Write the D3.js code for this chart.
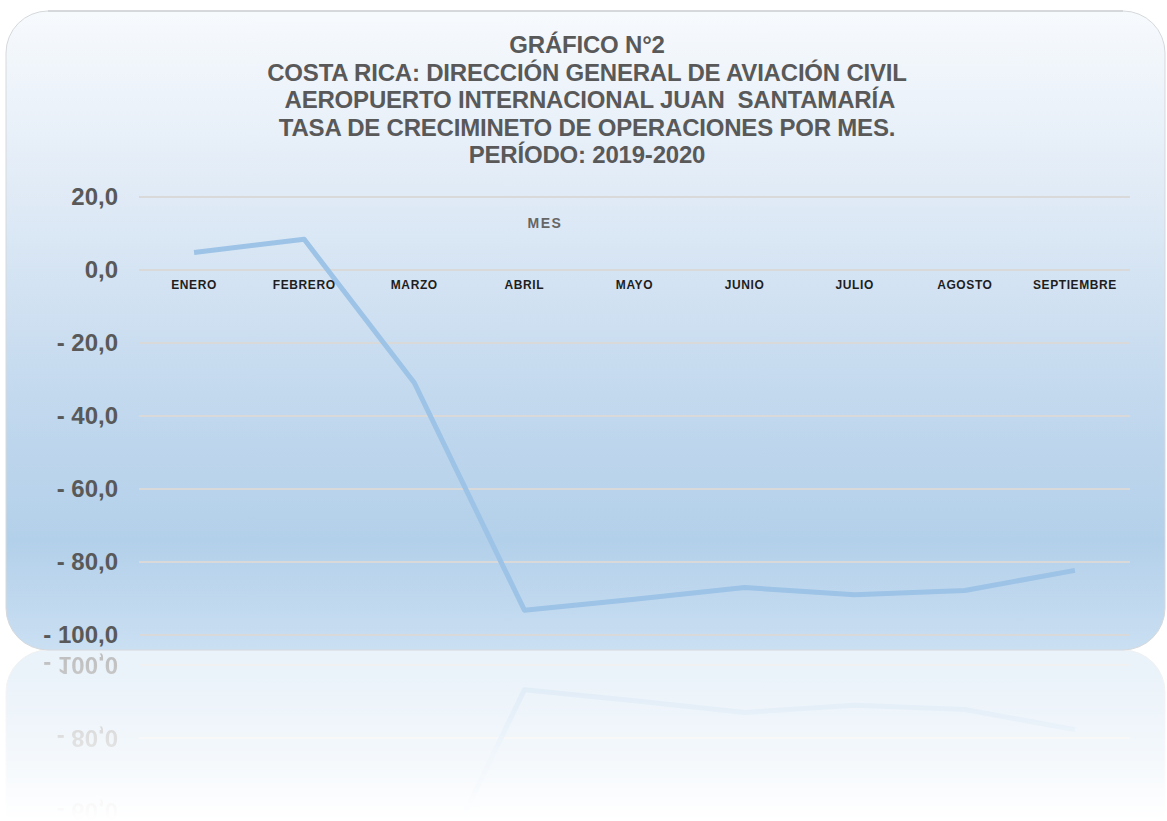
<!DOCTYPE html>
<html>
<head>
<meta charset="utf-8">
<script src="https://cdn.jsdelivr.net/npm/d3@7"></script>
<style>
  body { margin: 0; background: #fff; }
  text { font-family: "Liberation Sans", Arial, sans-serif; }
</style>
</head>
<body>
<svg id="chart" width="1167" height="821"></svg>
<script>
const months = ["ENERO", "FEBRERO", "MARZO", "ABRIL", "MAYO", "JUNIO", "JULIO", "AGOSTO", "SEPTIEMBRE"];
const rates = [4.8, 8.4, -30.9, -93.2, -90.2, -87.0, -89.0, -87.8, -82.3];
const yTicks = [20, 0, -20, -40, -60, -80, -100];
const titleLines = [
  "GRÁFICO N°2",
  "COSTA RICA: DIRECCIÓN GENERAL DE AVIACIÓN CIVIL",
  " AEROPUERTO INTERNACIONAL JUAN  SANTAMARÍA",
  "TASA DE CRECIMINETO DE OPERACIONES POR MES.",
  "PERÍODO: 2019-2020"
];

const W = 1167, H = 821;
const panel = { x: 6, y: 11, w: 1159, h: 639, r: 42 };
const mirrorY = panel.y + panel.h; // reflection axis

const svg = d3.select("#chart");
const defs = svg.append("defs");

// panel gradient
const grad = defs.append("linearGradient")
  .attr("id", "panelGrad")
  .attr("x1", 0).attr("y1", 0).attr("x2", 0).attr("y2", 1);
[[0, "#f7fafd"], [0.3, "#dfeaf6"], [0.6, "#c3d9ee"], [0.83, "#b3d0ea"], [1, "#cadff2"]]
  .forEach(([o, c]) => grad.append("stop").attr("offset", o).attr("stop-color", c));

// reflection fade
const fade = defs.append("linearGradient")
  .attr("id", "fadeGrad")
  .attr("gradientUnits", "userSpaceOnUse")
  .attr("x1", 0).attr("y1", mirrorY).attr("x2", 0).attr("y2", H);
fade.append("stop").attr("offset", 0).attr("stop-color", "#fff").attr("stop-opacity", 0.4);
fade.append("stop").attr("offset", 1).attr("stop-color", "#fff").attr("stop-opacity", 0);
defs.append("mask").attr("id", "fadeMask")
  .append("rect").attr("x", 0).attr("y", mirrorY).attr("width", W).attr("height", H - mirrorY)
  .attr("fill", "url(#fadeGrad)");
defs.append("clipPath").attr("id", "belowClip")
  .append("rect").attr("x", 0).attr("y", mirrorY).attr("width", W).attr("height", H - mirrorY);

const scene = defs.append("g").attr("id", "scene");

// panel
scene.append("rect")
  .attr("x", panel.x).attr("y", panel.y)
  .attr("width", panel.w).attr("height", panel.h)
  .attr("rx", panel.r)
  .attr("fill", "url(#panelGrad)")
  .attr("stroke", "#d6d9dc")
  .attr("stroke-width", 1);

const left = 139, right = 1130;
const x = d3.scaleBand().domain(months).range([left, right]);
const y = d3.scaleLinear().domain([-100, 20]).range([635, 197]);

// gridlines
scene.append("g")
  .selectAll("line")
  .data(yTicks)
  .join("line")
  .attr("x1", left).attr("x2", right)
  .attr("y1", d => y(d)).attr("y2", d => y(d))
  .attr("stroke", "#d9d9d9")
  .attr("stroke-width", 2);

// y axis labels
const fmt = d => (d < 0 ? "- " : "") + d3.format(".1f")(Math.abs(d)).replace(".", ",");
const yAxis = scene.append("g")
  .attr("transform", `translate(118,0)`)
  .call(d3.axisLeft(y).tickValues(yTicks).tickFormat(fmt).tickSize(0).tickPadding(0));
yAxis.select(".domain").remove();
yAxis.selectAll("text")
  .attr("fill", "#595959")
  .attr("font-size", 24)
  .attr("font-weight", "bold")
  .attr("font-family", "Liberation Sans, Arial, sans-serif");

// series line
scene.append("path")
  .datum(rates)
  .attr("fill", "none")
  .attr("stroke", "#9dc3e6")
  .attr("stroke-width", 5)
  .attr("stroke-linejoin", "round")
  .attr("d", d3.line()
    .x((d, i) => x(months[i]) + x.bandwidth() / 2)
    .y(d => y(d)));

// month labels at the zero line
const xAxis = scene.append("g")
  .attr("transform", `translate(0,${y(0)})`)
  .call(d3.axisBottom(x).tickSize(0).tickPadding(10));
xAxis.select(".domain").remove();
xAxis.selectAll("text")
  .attr("fill", "#1e1e1e")
  .attr("font-size", 12)
  .attr("font-weight", "bold")
  .attr("letter-spacing", 0.6)
  .attr("font-family", "Liberation Sans, Arial, sans-serif");

// axis title
scene.append("text")
  .attr("x", 545).attr("y", 228)
  .attr("text-anchor", "middle")
  .attr("fill", "#666")
  .attr("font-size", 14)
  .attr("font-weight", "bold")
  .attr("letter-spacing", 1.5)
  .text("MES");

// chart title
scene.append("g")
  .selectAll("text")
  .data(titleLines)
  .join("text")
  .attr("x", 587)
  .attr("y", (d, i) => 53 + i * 27.5)
  .attr("text-anchor", "middle")
  .attr("fill", "#595959")
  .attr("font-size", 24)
  .attr("font-weight", "bold")
  .attr("letter-spacing", -0.2)
  .style("white-space", "pre")
  .text(d => d);

// draw scene + its reflection
svg.append("use").attr("href", "#scene");
svg.append("g")
  .attr("clip-path", "url(#belowClip)")
  .attr("mask", "url(#fadeMask)")
  .append("use")
  .attr("href", "#scene")
  .attr("transform", `translate(0,${2 * mirrorY}) scale(1,-1)`);

// top edge shadow
svg.append("line")
  .attr("x1", panel.x + panel.r).attr("x2", panel.x + panel.w - panel.r)
  .attr("y1", panel.y).attr("y2", panel.y)
  .attr("stroke", "#cfd2d5").attr("stroke-width", 1.5);
</script>
</body>
</html>
